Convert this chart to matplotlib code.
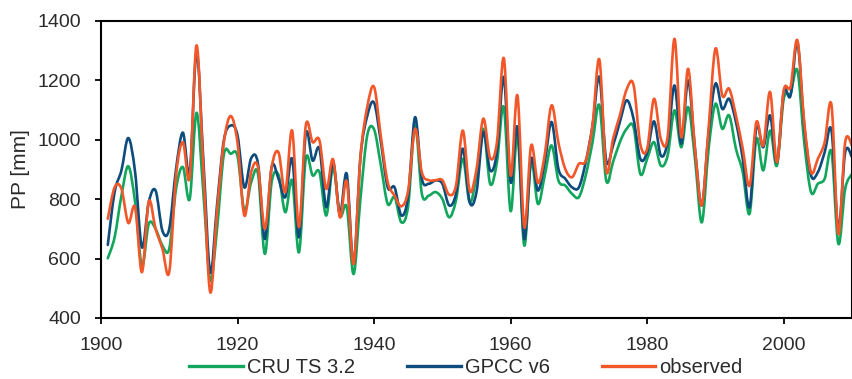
import matplotlib
matplotlib.use("Agg")
import matplotlib.pyplot as plt
from matplotlib.path import Path
from matplotlib.patches import PathPatch
from matplotlib.lines import Line2D
import numpy as np

plt.rcParams["font.family"] = ["Liberation Sans", "DejaVu Sans"]

years = list(range(1901, 2011))

observed = [734, 840, 835, 720, 773, 554, 792, 700, 633, 555,
            880, 992, 874, 1318, 900, 487, 760, 992, 1080, 990,
            745, 891, 908, 700, 908, 958, 824, 1031, 706, 1048,
            992, 998, 835, 934, 739, 860, 582, 940, 1110, 1178,
            1010, 857, 812, 776, 830, 1037, 890, 864, 864, 864,
            815, 846, 1031, 829, 900, 1071, 939, 992, 1275, 880,
            1149, 706, 981, 855, 950, 1116, 990, 902, 874, 919,
            930, 1050, 1270, 897, 1003, 1082, 1170, 1185, 985, 970,
            1138, 1003, 1010, 1340, 1009, 1239, 970, 779, 1040, 1307,
            1149, 1172, 1082, 970, 846, 1060, 981, 1161, 925, 1166,
            1178, 1335, 1060, 891, 936, 992, 1116, 683, 992, 981]

gpcc_v6 = [646, 824, 897, 1006, 891, 638, 790, 829, 694, 700,
           902, 1024, 891, 1296, 930, 554, 780, 998, 1048, 1015,
           840, 938, 919, 666, 908, 869, 807, 936, 672, 1020,
           930, 970, 773, 925, 751, 885, 582, 940, 1080, 1125,
           992, 840, 840, 745, 812, 1076, 869, 852, 863, 852,
           779, 818, 970, 790, 824, 1026, 897, 958, 1211, 857,
           1043, 666, 936, 829, 925, 1060, 902, 869, 840, 840,
           925, 1048, 1211, 930, 981, 1060, 1133, 1071, 936, 958,
           1062, 947, 992, 1183, 987, 1200, 970, 779, 1026, 1189,
           1104, 1138, 1060, 936, 773, 1043, 975, 1082, 925, 1161,
           1149, 1329, 1048, 880, 891, 958, 1031, 700, 958, 942]

cru_ts32 = [601, 672, 812, 911, 790, 576, 717, 700, 644, 633,
            835, 908, 801, 1091, 820, 526, 700, 950, 953, 945,
            762, 857, 885, 616, 857, 882, 756, 863, 621, 936,
            880, 891, 745, 908, 745, 773, 548, 800, 1015, 1035,
            913, 784, 807, 722, 779, 1048, 818, 812, 824, 801,
            739, 796, 936, 790, 880, 1037, 852, 925, 1110, 760,
            1015, 644, 925, 784, 880, 981, 863, 846, 818, 807,
            880, 992, 1116, 863, 925, 992, 1037, 1043, 885, 936,
            992, 913, 947, 1099, 975, 1110, 936, 722, 970, 1121,
            1037, 1082, 970, 891, 751, 1003, 897, 1031, 913, 1138,
            1155, 1234, 992, 824, 852, 869, 958, 650, 835, 885]

series_names = ["CRU TS 3.2", "GPCC v6", "observed"]
series_colors = ["#12a65c", "#0d4c7c", "#f2572a"]
text_color = "#2b2b2b"


def courbe_lissee(x, y):
    # Courbe de Bézier passant par chaque point (lissage type Excel)
    pts = np.column_stack([x, y]).astype(float)
    n = len(pts)
    verts = [pts[0]]
    codes = [Path.MOVETO]
    for i in range(n - 1):
        p0 = pts[i - 1] if i > 0 else pts[i]
        p1 = pts[i]
        p2 = pts[i + 1]
        p3 = pts[i + 2] if i + 2 < n else pts[i + 1]
        c1 = p1 + (p2 - p0) / 6.0
        c2 = p2 - (p3 - p1) / 6.0
        verts += [c1, c2, p2]
        codes += [Path.CURVE4] * 3
    return Path(verts, codes)


fig = plt.figure(figsize=(8.52, 3.79), dpi=100)
ax = fig.add_axes([0.1185, 0.161, 0.8815, 0.7836])

handles = []
for vals, name, col in zip([cru_ts32, gpcc_v6, observed], series_names, series_colors):
    patch = PathPatch(courbe_lissee(years, vals), facecolor="none",
                      edgecolor=col, lw=1.9, capstyle="round", joinstyle="round")
    ax.add_patch(patch)
    handles.append(Line2D([], [], color=col, lw=2.4, label=name))

ax.set_xlim(1900, 2010)
ax.set_ylim(400, 1400)
ax.set_xticks(range(1900, 2001, 20))
ax.set_yticks(range(400, 1401, 200))
ax.tick_params(axis="both", direction="out", length=4.5, width=1.3,
               labelsize=14, color="black", labelcolor=text_color)
ax.tick_params(axis="x", pad=9)
ax.tick_params(axis="y", pad=10)
for sp in ax.spines.values():
    sp.set_linewidth(1.5)
    sp.set_color("black")
ax.set_ylabel("PP [mm]", fontsize=15, color=text_color, labelpad=5)

fig.legend(handles=handles, loc="center", bbox_to_anchor=(0.547, 0.031),
           ncol=3, frameon=False, fontsize=14.5, handlelength=2.65,
           handletextpad=0.2, columnspacing=2.6, borderaxespad=0,
           borderpad=0, labelcolor=text_color)

fig.savefig("out.png", dpi=100)
